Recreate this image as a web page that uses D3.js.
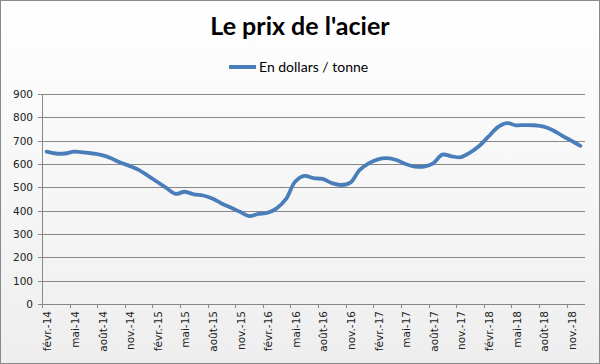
<!DOCTYPE html>
<html>
<head>
<meta charset="utf-8">
<script src="https://cdn.jsdelivr.net/npm/d3@7"></script>
<style>
  html, body { margin: 0; padding: 0; background: #fff; }
  svg { display: block; }
</style>
</head>
<body>
<svg class="chart" width="600" height="364"></svg>
<script>
// monthly categories, févr.-14 to déc.-18
const categories = [
  'févr.-14', 'mars-14', 'avr.-14', 'mai-14', 'juin-14', 'juil.-14', 'août-14', 'sept.-14', 'oct.-14', 'nov.-14', 'déc.-14',
  'janv.-15', 'févr.-15', 'mars-15', 'avr.-15', 'mai-15', 'juin-15', 'juil.-15', 'août-15', 'sept.-15', 'oct.-15', 'nov.-15', 'déc.-15',
  'janv.-16', 'févr.-16', 'mars-16', 'avr.-16', 'mai-16', 'juin-16', 'juil.-16', 'août-16', 'sept.-16', 'oct.-16', 'nov.-16', 'déc.-16',
  'janv.-17', 'févr.-17', 'mars-17', 'avr.-17', 'mai-17', 'juin-17', 'juil.-17', 'août-17', 'sept.-17', 'oct.-17', 'nov.-17', 'déc.-17',
  'janv.-18', 'févr.-18', 'mars-18', 'avr.-18', 'mai-18', 'juin-18', 'juil.-18', 'août-18', 'sept.-18', 'oct.-18', 'nov.-18', 'déc.-18'
];

// price in dollars per tonne
const prices = [
  653, 645, 645, 653, 650, 645, 638, 625, 606, 592, 575,
  550, 524, 498, 472, 481, 470, 465, 452, 431, 414, 395, 377,
  386, 391, 410, 449, 524, 549, 539, 536, 518, 510, 520, 574,
  603, 620, 625, 617, 600, 589, 589, 603, 640, 633, 629, 649,
  677, 717, 757, 775, 766, 767, 766, 760, 745, 722, 700, 678
];

const yTicks = [0, 100, 200, 300, 400, 500, 600, 700, 800, 900];

const title = "Le prix de l'acier";
const seriesName = 'En dollars / tonne';

const svg = d3.select('svg.chart'),
    W = +svg.attr('width'),
    H = +svg.attr('height'),
    margin = { top: 94, right: 15, bottom: 60, left: 42 },
    width = W - margin.left - margin.right,
    height = H - margin.top - margin.bottom;

const blue = '#4a7ebb',
    gridColor = '#878787';

// background with soft gradient + frame
const defs = svg.append('defs');
const grad = defs.append('linearGradient')
    .attr('id', 'bg')
    .attr('x1', 0).attr('y1', 0).attr('x2', 0).attr('y2', 1);
grad.append('stop').attr('offset', '0%').attr('stop-color', '#ffffff');
grad.append('stop').attr('offset', '100%').attr('stop-color', '#eeeeee');

svg.append('rect')
    .attr('x', 0.5).attr('y', 0.5)
    .attr('width', W - 1).attr('height', H - 1)
    .attr('fill', 'url(#bg)')
    .attr('stroke', '#8a8a8a');

const x = d3.scaleBand().domain(categories).range([0, width]);
const y = d3.scaleLinear().domain([0, 900]).range([height, 0]);

const g = svg.append('g')
    .attr('transform', 'translate(' + margin.left + ',' + margin.top + ')');

// horizontal gridlines
g.append('g')
    .selectAll('line')
    .data(yTicks)
    .enter().append('line')
    .attr('x1', -4)
    .attr('x2', width)
    .attr('y1', (d) => Math.round(y(d)) + 0.5)
    .attr('y2', (d) => Math.round(y(d)) + 0.5)
    .attr('stroke', gridColor)
    .attr('stroke-width', 1);

// y axis
const yAxis = g.append('g')
    .call(d3.axisLeft(y).tickValues(yTicks).tickSize(0).tickPadding(9));
yAxis.select('.domain').attr('stroke', gridColor).attr('d', 'M0.5,0V' + height);
yAxis.selectAll('text')
    .attr('font-family', 'DejaVu Sans, Verdana, sans-serif')
    .attr('font-size', '10.5px')
    .attr('fill', '#222');

// x axis: labels every 3 months, ticks on band edges
const shown = categories.filter((d, i) => i % 3 === 0);
const xAxis = g.append('g')
    .attr('transform', 'translate(0,' + height + ')')
    .call(d3.axisBottom(x).tickValues(shown).tickSize(0));
xAxis.select('.domain').attr('stroke', gridColor).attr('d', 'M0,0.5H' + width);
xAxis.selectAll('text')
    .attr('font-family', 'DejaVu Sans, Verdana, sans-serif')
    .attr('font-size', '10.5px')
    .attr('fill', '#222')
    .attr('text-anchor', 'end')
    .attr('dy', '0.35em')
    .attr('transform', 'translate(1,7) rotate(-90)')
    .attr('x', 0)
    .attr('y', 0);

g.append('g')
    .selectAll('line')
    .data(shown)
    .enter().append('line')
    .attr('x1', (d) => Math.round(x(d)) + 0.5)
    .attr('x2', (d) => Math.round(x(d)) + 0.5)
    .attr('y1', height)
    .attr('y2', height + 4)
    .attr('stroke', gridColor);

// the series line (smoothed, like the original)
const line = d3.line()
    .x((d, i) => x(categories[i]) + x.bandwidth() / 2)
    .y((d) => y(d))
    .curve(d3.curveCatmullRom.alpha(0.5));

g.append('path')
    .datum(prices)
    .attr('fill', 'none')
    .attr('stroke', blue)
    .attr('stroke-width', 3.8)
    .attr('stroke-linejoin', 'round')
    .attr('stroke-linecap', 'round')
    .attr('d', line);

// title
svg.append('text')
    .attr('x', W / 2)
    .attr('y', 35)
    .attr('text-anchor', 'middle')
    .attr('font-family', 'Lato, sans-serif')
    .attr('font-weight', 'bold')
    .attr('font-size', '25px')
    .attr('fill', '#000')
    .text(title);

// legend
const legend = svg.append('g');
legend.append('line')
    .attr('x1', 229).attr('x2', 256)
    .attr('y1', 67).attr('y2', 67)
    .attr('stroke', blue)
    .attr('stroke-width', 4);
legend.append('text')
    .attr('x', 259)
    .attr('y', 72)
    .attr('font-family', 'Lato, sans-serif')
    .attr('font-size', '14px')
    .attr('fill', '#000')
    .text(seriesName);
</script>
</body>
</html>
